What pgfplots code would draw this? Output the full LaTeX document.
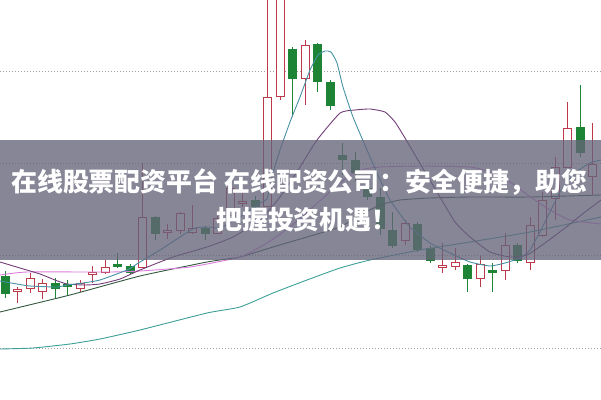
\documentclass[border=0pt]{standalone}
\usepackage{pgfplots}
\pgfplotsset{compat=1.18}
\usepackage{fontspec}
\newfontfamily\cjk{Noto Sans CJK SC}
\definecolor{redc}{RGB}{188,58,74}
\definecolor{greenc}{RGB}{28,132,52}
\definecolor{maA}{RGB}{70,145,165}
\definecolor{maB}{RGB}{115,60,120}
\definecolor{maC}{RGB}{222,125,222}
\definecolor{maD}{RGB}{50,88,62}
\definecolor{maE}{RGB}{60,160,150}
\definecolor{band}{RGB}{100,100,122}
% x, body top, body bottom, wick top, wick bottom (pixel rows)
\newcommand{\candleR}[5]{%
  \pgfmathsetmacro\xl{#1-4}\pgfmathsetmacro\xr{#1+4}%
  \addplot[redc, line width=1bp, forget plot] coordinates {(#1,#4) (#1,#5)};
  \addplot[redc, fill=white, line width=1bp, line join=miter, forget plot] coordinates {(\xl,#2) (\xr,#2) (\xr,#3) (\xl,#3) (\xl,#2)};
}
\newcommand{\candleG}[5]{%
  \pgfmathsetmacro\xl{#1-4}\pgfmathsetmacro\xr{#1+4}%
  \addplot[greenc, line width=1bp, forget plot] coordinates {(#1,#4) (#1,#5)};
  \addplot[greenc, fill=greenc, line width=1bp, line join=miter, forget plot] coordinates {(\xl,#2) (\xr,#2) (\xr,#3) (\xl,#3) (\xl,#2)};
}
\begin{document}
\begin{tikzpicture}
\begin{axis}[name=ax,
  scale only axis, width=601bp, height=400bp,
  xmin=0, xmax=601, ymin=0, ymax=400, y dir=reverse,
  axis line style={draw=none}, tick style={draw=none},
  xtick=\empty, ytick={71,163.3,255.7,348}, yticklabels={},
  ymajorgrids=true,
  major grid style={gray!75, line width=0.8bp, dash pattern=on 0.9bp off 2.1bp},
  clip=true]
\candleG{5}{276}{293}{271}{298}
\candleR{17.5}{289}{291}{287}{303}
\candleR{30}{278}{288}{273}{293}
\candleR{42.5}{283}{291}{279}{299}
\candleG{55}{283}{288}{278}{298}
\candleG{67.5}{284}{286}{280}{295}
\candleR{80}{283}{288}{280}{292}
\candleR{92.5}{272}{274}{266}{283}
\candleR{105}{267}{272}{260}{274}
\candleG{117.5}{264}{266}{253}{268}
\candleG{130}{266}{272}{264}{274}
\candleR{142.5}{217}{267}{163}{267}
\candleG{155}{217}{233}{216}{240}
\candleR{167.5}{230}{232}{224}{239}
\candleR{180}{213}{230}{212}{234}
\candleR{192.5}{228}{232}{205}{234}
\candleG{205}{228}{233}{226}{240}
\candleR{217.5}{218}{233}{216}{234}
\candleR{230}{188}{215}{186}{216}
\candleR{242.5}{201}{203}{192}{207}
\candleG{255}{200}{206}{196}{209}
\candleR{267.5}{97}{206}{-10}{207}
\candleR{280}{-20}{96}{-30}{100}
\candleG{292.5}{49}{78}{47}{117}
\candleR{305}{45}{78}{40}{105}
\candleG{317.5}{44}{81}{43}{92}
\candleG{330}{82}{105}{80}{110}
\candleG{342.5}{155}{159}{143}{175}
\candleG{355}{160}{172}{152}{181}
\candleG{367.5}{188}{196}{183}{200}
\candleG{380}{197}{228}{188}{235}
\candleG{392.5}{230}{245}{212}{248}
\candleR{405}{223}{240}{220}{245}
\candleG{417.5}{224}{249}{222}{252}
\candleG{430}{248}{260}{246}{263}
\candleR{442.5}{265}{267}{243}{273}
\candleR{455}{262}{266}{248}{270}
\candleG{467.5}{265}{278}{264}{292}
\candleR{480}{264}{278}{256}{287}
\candleG{492.5}{270}{272}{263}{292}
\candleR{505}{245}{270}{233}{280}
\candleG{517.5}{245}{260}{243}{263}
\candleR{530}{225}{262}{217}{270}
\candleR{542.5}{200}{235}{192}{237}
\candleR{555}{167}{198}{157}{220}
\candleR{567.5}{128}{167}{102}{168}
\candleG{580}{127}{152}{85}{157}
\candleR{592.5}{164}{176}{123}{195}
% moving averages
\addplot[maE, line width=0.9bp, smooth, tension=0.3] coordinates {(0,349) (33,348) (70,344) (100,339) (140,330) (207,313) (240,307) (273,293) (307,280) (340,268) (370,260) (420,250) (470,242) (530,232) (601,217)};
\addplot[maD, line width=0.9bp, smooth, tension=0.3] coordinates {(0,312) (70,295) (140,276) (207,262) (240,257) (273,247) (307,237) (340,227) (360,215) (380,205) (400,200) (430,198) (470,197) (530,197) (601,195)};
\addplot[maC, line width=0.9bp, smooth, tension=0.3] coordinates {(0,275) (27,272) (110,272) (140,271) (190,267) (240,257) (267,243) (290,227) (313,207) (340,183) (352,174) (365,169) (380,167) (420,166) (470,167) (490,172) (510,182) (532,198) (550,210) (570,220) (601,224)};
\addplot[maB, line width=0.9bp, smooth, tension=0.3] coordinates {(0,262) (20,268) (40,274) (55,280) (67,284) (85,285) (100,284) (120,279) (140,270) (173,257) (207,247) (233,237) (260,220) (280,197) (300,167) (317,140) (340,113) (355,110) (370,109) (385,112) (395,122) (405,138) (415,155) (425,172) (440,197) (455,222) (470,237) (490,252) (510,257) (527,255) (545,243) (565,228) (585,212) (601,200)};
\addplot[maA, line width=0.9bp, smooth, tension=0.3] coordinates {(0,281) (17,284) (30,286) (57,287) (67,285) (83,283) (100,280) (127,270) (140,262) (160,250) (180,237) (195,228) (210,227) (220,228) (240,217) (260,203) (267,199) (273,173) (280,150) (290,122) (300,97) (310,70) (318,55) (325,51) (331,52) (337,63) (343,87) (353,117) (367,150) (377,173) (390,200) (410,227) (430,243) (450,253) (470,262) (490,266) (505,263) (520,258) (530,250) (545,222) (560,192) (575,173) (590,163) (601,160)};
% banner
\fill[band, opacity=0.78] (axis cs:0,140) rectangle (axis cs:601,260);
\node[anchor=west, inner sep=0pt, text=white, font=\cjk\bfseries\fontsize{26}{30}\selectfont] at (axis cs:11,182) {在线股票配资平台 在线配资公司：安全便捷，助您};
\node[anchor=west, inner sep=0pt, text=white, font=\cjk\bfseries\fontsize{26}{30}\selectfont] at (axis cs:216,220) {把握投资机遇！};
\end{axis}
\pgfresetboundingbox
\path[use as bounding box] (ax.south west) rectangle (ax.north east);
\end{tikzpicture}
\end{document}
